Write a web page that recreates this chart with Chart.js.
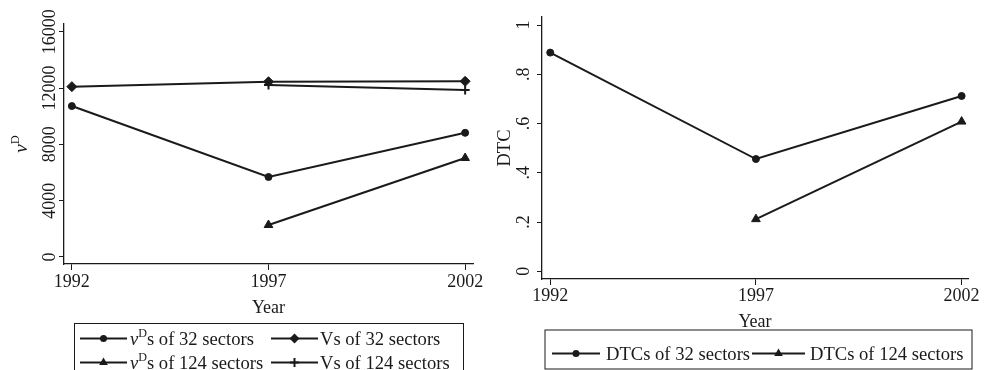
<!DOCTYPE html>
<html lang="en">
<head>
  <meta charset="UTF-8">
  <title>vD and DTC by year</title>
  <style>
    body { margin: 0; background: #fff; }
    .panel { position: absolute; top: 0; width: 492px; height: 370px; }
    #leftPanel { left: 0; }
    #rightPanel { left: 492px; }
  </style>
</head>
<body>
  <div class="panel" id="leftPanel"><canvas id="vdChart" width="492" height="370"></canvas></div>
  <div class="panel" id="rightPanel"><canvas id="dtcChart" width="492" height="370"></canvas></div>

  <script src="https://cdn.jsdelivr.net/npm/chart.js@4.4.0/dist/chart.umd.min.js"></script>
  <script>
    // data
    const years = [1992, 1997, 2002];
    const vdTicks = [0, 4000, 8000, 12000, 16000];
    const vdTickLabels = ["0", "4000", "8000", "12000", "16000"];
    const dtcTicks = [0, 0.2, 0.4, 0.6, 0.8, 1];
    const dtcTickLabels = ["0", ".2", ".4", ".6", ".8", "1"];

    const vd32 = [10720, 5680, 8820];
    const vs32 = [12100, 12450, 12480];
    const vd124 = [null, 2270, 7030];
    const vs124 = [null, 12210, 11860];

    const dtc32 = [0.888, 0.456, 0.712];
    const dtc124 = [null, 0.212, 0.608];

    const INK = "#1a1a1a";
    const SERIF = "'Liberation Serif', 'Times New Roman', serif";

    function pts(vals) {
      return years.map((yr, i) => ({ x: yr, y: vals[i] }));
    }

    function serie(label, vals, style, r) {
      return {
        label: label,
        data: pts(vals),
        borderColor: INK,
        backgroundColor: INK,
        borderWidth: 2,
        pointStyle: style,
        pointRadius: r,
        pointHoverRadius: r,
        pointBorderWidth: style === "cross" ? 2 : 1,
        tension: 0
      };
    }

    // small marker drawer for the legend keys
    function marker(ctx, style, x, y, r) {
      ctx.beginPath();
      if (style === "circle") {
        ctx.arc(x, y, r, 0, Math.PI * 2);
        ctx.fill();
      } else if (style === "rectRot") {
        ctx.moveTo(x, y - r); ctx.lineTo(x + r, y); ctx.lineTo(x, y + r); ctx.lineTo(x - r, y);
        ctx.closePath(); ctx.fill();
      } else if (style === "triangle") {
        ctx.moveTo(x, y - r);
        ctx.lineTo(x + r * 0.866, y + r / 2);
        ctx.lineTo(x - r * 0.866, y + r / 2);
        ctx.closePath(); ctx.fill();
      } else if (style === "cross") {
        ctx.lineWidth = 2;
        ctx.moveTo(x - r, y); ctx.lineTo(x + r, y);
        ctx.moveTo(x, y - r); ctx.lineTo(x, y + r);
        ctx.stroke();
      }
    }

    // text with italic v and superscript D
    function richWidth(ctx, parts, size) {
      let w = 0;
      parts.forEach(p => {
        const s = p.sup ? size * 0.65 : size;
        ctx.font = (p.it ? "italic " : "") + s + "px " + SERIF;
        w += ctx.measureText(p.t).width;
      });
      return w;
    }
    function richText(ctx, parts, x, y, size) {
      ctx.textAlign = "left";
      ctx.textBaseline = "alphabetic";
      parts.forEach(p => {
        const s = p.sup ? size * 0.65 : size;
        ctx.font = (p.it ? "italic " : "") + s + "px " + SERIF;
        ctx.fillText(p.t, x, p.sup ? y - size * 0.43 : y);
        x += ctx.measureText(p.t).width;
      });
    }

    const decor = {
      id: "decor",
      afterDraw(chart, args, o) {
        const ctx = chart.ctx, ys = chart.scales.y, xs = chart.scales.x, a = chart.chartArea;
        ctx.save();
        ctx.fillStyle = INK;
        ctx.strokeStyle = INK;

        // rotated y tick labels
        ctx.font = "18px " + SERIF;
        ys.ticks.forEach((t, i) => {
          ctx.save();
          ctx.translate(a.left - o.tickGap, ys.getPixelForValue(t.value));
          ctx.rotate(-Math.PI / 2);
          ctx.textAlign = "center";
          ctx.textBaseline = "alphabetic";
          ctx.fillText(o.tickLabels[i], 0, 0);
          ctx.restore();
        });

        // y title, rotated
        const tw = richWidth(ctx, o.yTitle, o.yTitleSize);
        ctx.save();
        ctx.translate(o.yTitleX, (a.top + a.bottom) / 2);
        ctx.rotate(-Math.PI / 2);
        richText(ctx, o.yTitle, -tw / 2, 0, o.yTitleSize);
        ctx.restore();

        // x title
        ctx.font = "18px " + SERIF;
        ctx.textAlign = "center";
        ctx.textBaseline = "alphabetic";
        ctx.fillText("Year", (xs.left + xs.right) / 2, o.xTitleY);

        // legend
        const L = o.legend;
        ctx.lineWidth = 1;
        ctx.strokeRect(L.box[0], L.box[1], L.box[2], L.box[3]);
        L.items.forEach(it => {
          const ds = chart.data.datasets[it.ds];
          ctx.lineWidth = 2;
          ctx.beginPath();
          ctx.moveTo(it.k0, it.y);
          ctx.lineTo(it.k1, it.y);
          ctx.stroke();
          marker(ctx, ds.pointStyle, (it.k0 + it.k1) / 2, it.y, ds.pointRadius);
          richText(ctx, it.text, it.tx, it.y + 6.5, L.size);
        });
        ctx.restore();
      }
    };

    function xScale(min, max, pad) {
      return {
        type: "linear",
        min: min,
        max: max,
        afterBuildTicks: s => { s.ticks = years.map(v => ({ value: v })); },
        grid: { drawOnChartArea: false, drawTicks: true, tickLength: 6, color: INK, lineWidth: 1 },
        border: { display: true, color: INK, width: 1.3 },
        ticks: {
          color: INK, font: { family: SERIF, size: 18 }, padding: pad,
          maxRotation: 0, autoSkip: false, callback: v => String(v)
        },
        afterFit: s => { s.height = 60; }
      };
    }

    function yScale(min, max, ticks, w) {
      return {
        type: "linear",
        min: min,
        max: max,
        afterBuildTicks: s => { s.ticks = ticks.map(v => ({ value: v })); },
        grid: { drawOnChartArea: false, drawTicks: true, tickLength: 5, color: INK, lineWidth: 1 },
        border: { display: true, color: INK, width: 1.3 },
        ticks: { display: false },
        afterFit: s => { s.width = w; }
      };
    }

    const vD = [{ t: "v", it: true }, { t: "D", sup: true }];

    new Chart(document.getElementById("vdChart"), {
      type: "line",
      data: {
        datasets: [
          serie("vDs of 32 sectors", vd32, "circle", 3.5),
          serie("Vs of 32 sectors", vs32, "rectRot", 5),
          serie("vDs of 124 sectors", vd124, "triangle", 5),
          serie("Vs of 124 sectors", vs124, "cross", 4.5)
        ]
      },
      options: {
        responsive: false,
        animation: false,
        devicePixelRatio: 1,
        layout: { padding: { left: 14, right: 19, top: 24, bottom: 46 } },
        scales: {
          x: xScale(1991.8, 2002.2, 1),
          y: yScale(-500, 16550, vdTicks, 50)
        },
        plugins: {
          legend: { display: false },
          tooltip: { enabled: false },
          decor: {
            tickGap: 9,
            tickLabels: vdTickLabels,
            yTitle: vD,
            yTitleSize: 19,
            yTitleX: 27,
            xTitleY: 312.5,
            legend: {
              box: [74.5, 323.5, 389, 60],
              size: 18.6,
              items: [
                { ds: 0, k0: 80, k1: 127, tx: 130, y: 338.5, text: vD.concat([{ t: "s of 32 sectors" }]) },
                { ds: 1, k0: 271, k1: 318, tx: 320, y: 338.5, text: [{ t: "Vs of 32 sectors" }] },
                { ds: 2, k0: 80, k1: 127, tx: 130, y: 362.5, text: vD.concat([{ t: "s of 124 sectors" }]) },
                { ds: 3, k0: 271, k1: 318, tx: 320, y: 362.5, text: [{ t: "Vs of 124 sectors" }] }
              ]
            }
          }
        }
      },
      plugins: [decor]
    });

    new Chart(document.getElementById("dtcChart"), {
      type: "line",
      data: {
        datasets: [
          serie("DTCs of 32 sectors", dtc32, "circle", 3.5),
          serie("DTCs of 124 sectors", dtc124, "triangle", 5)
        ]
      },
      options: {
        responsive: false,
        animation: false,
        devicePixelRatio: 1,
        layout: { padding: { left: 10, right: 16, top: 17, bottom: 31 } },
        scales: {
          x: xScale(1991.8, 2002.155, 0),
          y: yScale(-0.031, 1.0325, dtcTicks, 40)
        },
        plugins: {
          legend: { display: false },
          tooltip: { enabled: false },
          decor: {
            tickGap: 13,
            tickLabels: dtcTickLabels,
            yTitle: [{ t: "DTC" }],
            yTitleSize: 18.5,
            yTitleX: 17.5,
            xTitleY: 327,
            legend: {
              box: [53, 330, 427, 39],
              size: 18.6,
              items: [
                { ds: 0, k0: 60, k1: 108, tx: 114, y: 353.5, text: [{ t: "DTCs of 32 sectors" }] },
                { ds: 1, k0: 260, k1: 313, tx: 318, y: 353.5, text: [{ t: "DTCs of 124 sectors" }] }
              ]
            }
          }
        }
      },
      plugins: [decor]
    });
  </script>
</body>
</html>
